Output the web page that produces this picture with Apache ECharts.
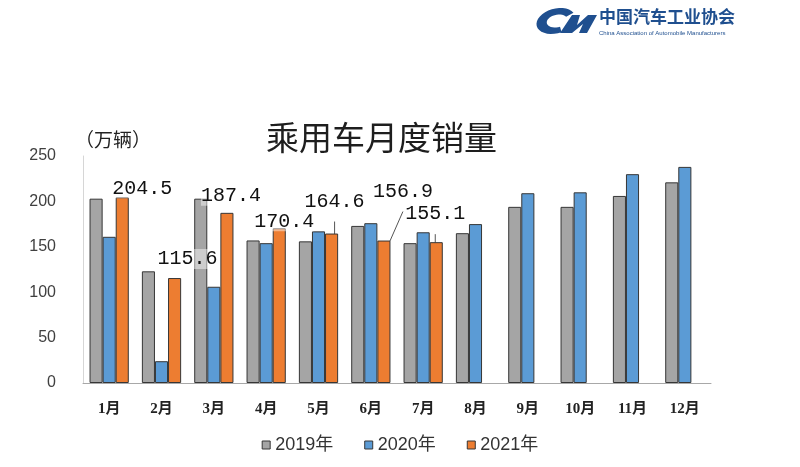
<!DOCTYPE html>
<html><head><meta charset="utf-8">
<script src="https://cdn.jsdelivr.net/npm/echarts@6/dist/echarts.min.js"></script>
<style>html,body{margin:0;padding:0;background:#fff}#c{width:800px;height:467px}</style>
</head><body><div id="c"></div>
<script>
const months = ['1月','2月','3月','4月','5月','6月','7月','8月','9月','10月','11月','12月'];
const seriesNames = ['2019年','2020年','2021年'];
const sales2019 = [203, 123, 203, 157, 156, 173, 154, 165, 194, 194, 206, 221];
const sales2020 = [161, 24, 106, 154, 167, 176, 166, 175, 209, 210, 230, 238];
const sales2021 = [204.5, 115.6, 187.4, 170.4, 164.6, 156.9, 155.1, null, null, null, null, null];
const yTicks = [0, 50, 100, 150, 200, 250];

// label placement (style only)
const labelOffsets = [[20,6],[13,-4],[4,-2],[5,8],[3,-17],[19,-34],[-1,-13]];
const labelLeader = [false,false,false,false,true,true,true];

const colors = ['#a5a5a5','#5b9bd5','#ed7d31'];
const border = '#363636';
const logoBlue = '#1f4f8f';

// logo "C" swoosh outline (decoration)
function arcPts(cx, cy, rx, ry, a0, a1, n, skew) {
  const p = [];
  for (let k = 0; k <= n; k++) {
    const a = (a0 + (a1 - a0) * k / n) * Math.PI / 180;
    const y = cy - ry * Math.sin(a);
    p.push([cx + rx * Math.cos(a) + skew * (cy - y), y]);
  }
  return p;
}
const cOuter = arcPts(556, 21, 19, 13, 40, 300, 24, 0.35);
const cInner = arcPts(557, 21, 10, 6.5, 300, 40, 24, 0.35);
const cShape = cOuter.concat(cInner);
const mShape = [[560,33],[572,15],[580,15],[577,25],[588,15],[597,15],[587,33],[579,33],[583,24],[572,33]];

const chart = echarts.init(document.getElementById('c'));
const barBase = { type: 'bar', barGap: '0%', barCategoryGap: '25%' };
chart.setOption({
  animation: false,
  backgroundColor: '#fff',
  grid: { left: 83, right: 89, top: 156, bottom: 84 },
  title: {
    text: '乘用车月度销量', left: 261, top: 116,
    textStyle: { fontFamily: 'Noto Sans CJK SC', fontSize: 33, fontWeight: 'normal', color: '#1e1e1e' }
  },
  legend: {
    data: seriesNames, bottom: 8, left: 'center', itemWidth: 8, itemHeight: 8, itemGap: 31,
    icon: 'rect',
    itemStyle: { borderColor: border, borderWidth: 1 },
    textStyle: { fontFamily: 'Liberation Sans, Noto Sans CJK SC', fontSize: 18, color: '#333' }
  },
  graphic: [
    { type: 'text', x: 75, y: 130, style: { text: '（万辆）', font: '19px "Noto Sans CJK SC"', fill: '#222' } },
    { type: 'polygon', shape: { points: cShape }, style: { fill: logoBlue } },
    { type: 'polygon', shape: { points: mShape }, style: { fill: logoBlue } },
    { type: 'text', x: 599, y: 8, style: { text: '中国汽车工业协会', font: 'bold 17px "Noto Sans CJK SC"', fill: logoBlue } },
    { type: 'text', x: 599, y: 30, style: { text: 'China Association of Automobile Manufacturers', font: '6px "Liberation Sans"', fill: logoBlue } }
  ],
  xAxis: {
    type: 'category', data: months,
    axisLine: { lineStyle: { color: '#a8a8a8', width: 1 } },
    axisTick: { show: false },
    axisLabel: { margin: 19, fontFamily: 'Liberation Serif, Noto Sans CJK SC', fontSize: 15, fontWeight: 'bold', color: '#222' }
  },
  yAxis: {
    type: 'value', min: yTicks[0], max: yTicks[yTicks.length-1], interval: yTicks[1]-yTicks[0],
    axisLine: { show: true, lineStyle: { color: '#d6d6d6' } },
    axisTick: { show: false },
    splitLine: { show: false },
    axisLabel: { margin: 27, fontFamily: 'Liberation Sans', fontSize: 16, color: '#404040' }
  },
  series: [
    Object.assign({}, barBase, { name: seriesNames[0], data: sales2019, itemStyle: { color: colors[0], borderColor: border, borderWidth: 1 } }),
    Object.assign({}, barBase, { name: seriesNames[1], data: sales2020, itemStyle: { color: colors[1], borderColor: border, borderWidth: 1 } }),
    Object.assign({}, barBase, {
      name: seriesNames[2],
      itemStyle: { color: colors[2], borderColor: border, borderWidth: 1 },
      label: {
        show: true, position: 'top', distance: 5,
        fontFamily: 'Liberation Mono', fontSize: 20, color: '#111',
        backgroundColor: 'rgba(255,255,255,0.45)',
        formatter: p => p.value.toFixed(1)
      },
      labelLine: { show: false, lineStyle: { color: '#555', width: 1 } },
      data: sales2021.map((v, i) => v == null ? '-' : {
        value: v,
        label: { offset: labelOffsets[i] },
        labelLine: { show: labelLeader[i] }
      })
    })
  ]
});
</script></body></html>
